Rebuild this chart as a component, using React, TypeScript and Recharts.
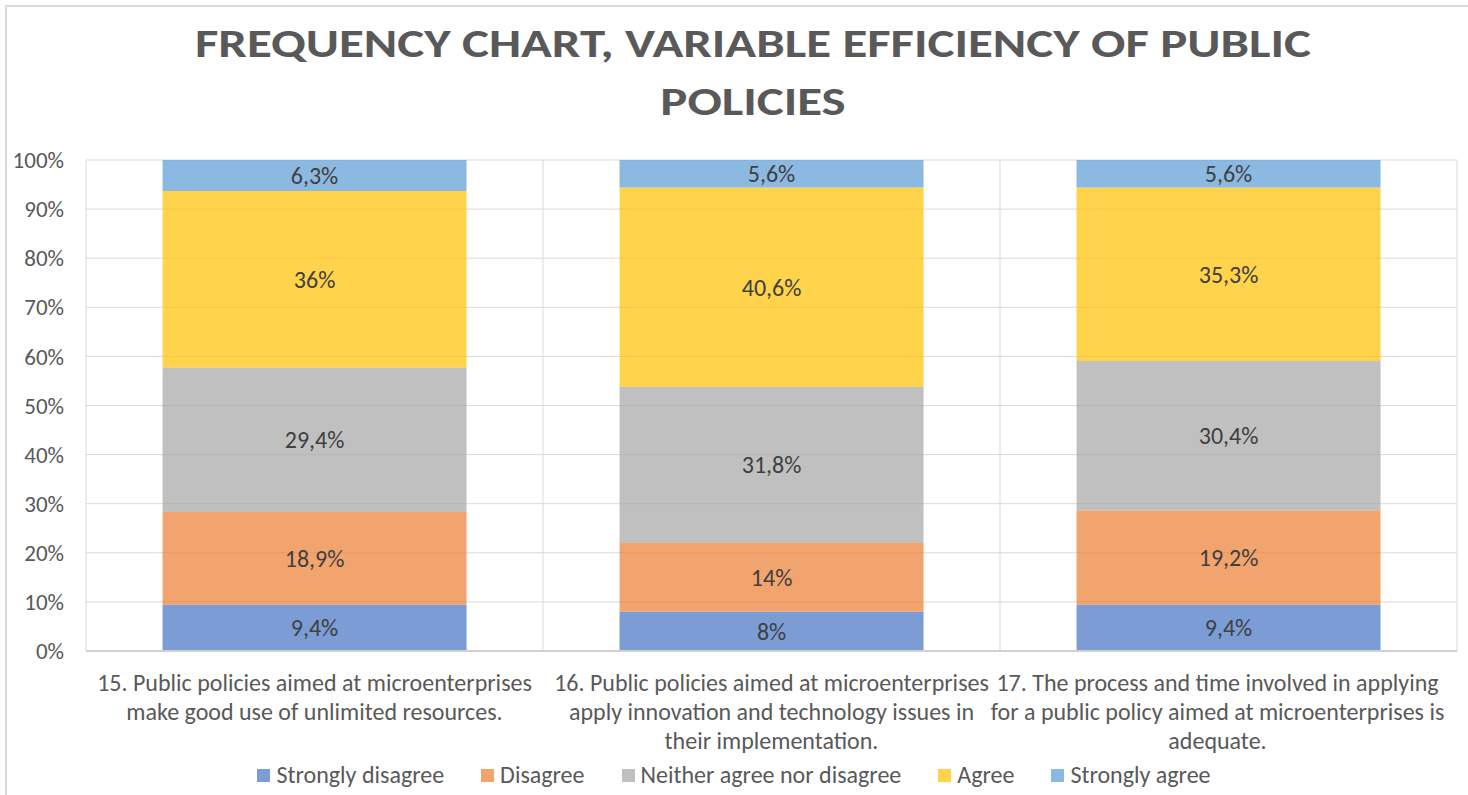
import { BarChart, Bar, XAxis, YAxis, CartesianGrid, Legend, LabelList } from "recharts";

const categories = [
  "15. Public policies aimed at microenterprises make good use of unlimited resources.",
  "16. Public policies aimed at microenterprises apply innovation and technology issues in their implementation.",
  "17. The process and time involved in applying for a public policy aimed at microenterprises is adequate.",
];

// how Excel wrapped each category label
const categoryLines = [
  ["15. Public policies aimed at microenterprises", "make good use of unlimited resources."],
  ["16. Public policies aimed at microenterprises", "apply innovation and technology issues in", "their implementation."],
  ["17. The process and time involved in applying", "for a public policy aimed at microenterprises is", "adequate."],
];

const seriesNames = ["Strongly disagree", "Disagree", "Neither agree nor disagree", "Agree", "Strongly agree"];
const seriesColors = ["#4472C4", "#ED7D31", "#A5A5A5", "#FFC000", "#5B9BD5"];

const stronglyDisagree = [9.4, 8, 9.4];
const disagree = [18.9, 14, 19.2];
const neither = [29.4, 31.8, 30.4];
const agree = [36, 40.6, 35.3];
const stronglyAgree = [6.3, 5.6, 5.6];

const yTicks = [0, 0.1, 0.2, 0.3, 0.4, 0.5, 0.6, 0.7, 0.8, 0.9, 1];

const seriesValues = [stronglyDisagree, disagree, neither, agree, stronglyAgree];

const data = categories.map((name, i) => {
  const row: Record<string, string | number> = { name };
  seriesNames.forEach((s, j) => {
    row[s] = seriesValues[j][i];
  });
  return row;
});

const FONT = "Carlito, Lato, sans-serif";
const TEXT = "#595959";

const fmt = (v: number) => String(v).replace(".", ",") + "%";

// Excel nudges the last label inward so it stays inside the chart
const tickShift = [0, 0, -11];

function CategoryTick(props: any) {
  const { x, y, payload } = props;
  const idx = categories.indexOf(payload.value);
  const lines = categoryLines[idx] || [payload.value];
  const cx = x + (tickShift[idx] || 0);
  return (
    <text x={cx} y={y} textAnchor="middle" fill={TEXT} fontSize={24} fontFamily={FONT}>
      {lines.map((l, i) => (
        <tspan key={i} x={cx} dy={i === 0 ? 32 : 29}>
          {l}
        </tspan>
      ))}
    </text>
  );
}

function renderLegend() {
  return (
    <div style={{ display: "flex", justifyContent: "center", fontFamily: FONT, fontSize: 24, color: TEXT, lineHeight: "26px" }}>
      {seriesNames.map((s, i) => (
        <div key={s} style={{ display: "flex", alignItems: "center", marginRight: i < seriesNames.length - 1 ? 37 : 0 }}>
          <span
            style={{ width: 13, height: 13, background: seriesColors[i], opacity: 0.7, marginRight: 6, display: "inline-block" }}
          />
          <span>{s}</span>
        </div>
      ))}
    </div>
  );
}

export default function App() {
  return (
    <div style={{ position: "absolute", left: 0, top: 0, width: 1468, height: 795, overflow: "hidden", background: "#fff" }}>
      <div
        style={{
          position: "absolute",
          left: 5,
          top: 5,
          width: 1500,
          height: 820,
          border: "2px solid #d9d9d9",
        }}
      />
      <div
        style={{
          position: "absolute",
          left: 0,
          top: 14,
          width: 1506,
          textAlign: "center",
          fontFamily: FONT,
          fontWeight: 700,
          fontSize: 41,
          lineHeight: "58px",
          color: TEXT,
          transform: "scaleX(1.24)",
          transformOrigin: "753px 0",
        }}
      >
        FREQUENCY CHART, VARIABLE EFFICIENCY OF PUBLIC
        <br />
        POLICIES
      </div>
      <div style={{ position: "absolute", left: 0, top: 0 }}>
        <BarChart
          width={1468}
          height={795}
          data={data}
          stackOffset="expand"
          barCategoryGap="16.75%"
          margin={{ top: 160, right: 11, bottom: 18, left: 0 }}
        >
          <CartesianGrid
            stroke="#d9d9d9"
            verticalCoordinatesGenerator={({ offset }: any) =>
              [0, 1, 2, 3].map((i) => offset.left + (offset.width * i) / 3)
            }
          />
          <XAxis
            dataKey="name"
            height={100}
            interval={0}
            tickLine={false}
            axisLine={{ stroke: "#d0d0d0", strokeWidth: 2 }}
            tick={<CategoryTick />}
          />
          <YAxis
            width={86}
            domain={[0, 1]}
            ticks={yTicks}
            axisLine={false}
            tickLine={false}
            tickMargin={16}
            tickFormatter={(v: number) => Math.round(v * 100) + "%"}
            tick={{ fill: TEXT, fontSize: 23, fontFamily: FONT }}
          />
          <Legend content={renderLegend} wrapperStyle={{ position: "absolute", left: 0, top: 762, width: 1468 }} />
          {seriesNames.map((s, i) => (
            <Bar key={s} dataKey={s} stackId="a" fill={seriesColors[i]} fillOpacity={0.7} isAnimationActive={false}>
              <LabelList
                dataKey={s}
                content={(p: any) => (
                  <text
                    x={p.x + p.width / 2}
                    y={p.y + p.height / 2}
                    textAnchor="middle"
                    dominantBaseline="central"
                    fill="#404040"
                    fontSize={24}
                    fontFamily={FONT}
                  >
                    {fmt(p.value)}
                  </text>
                )}
              />
            </Bar>
          ))}
        </BarChart>
      </div>
    </div>
  );
}
